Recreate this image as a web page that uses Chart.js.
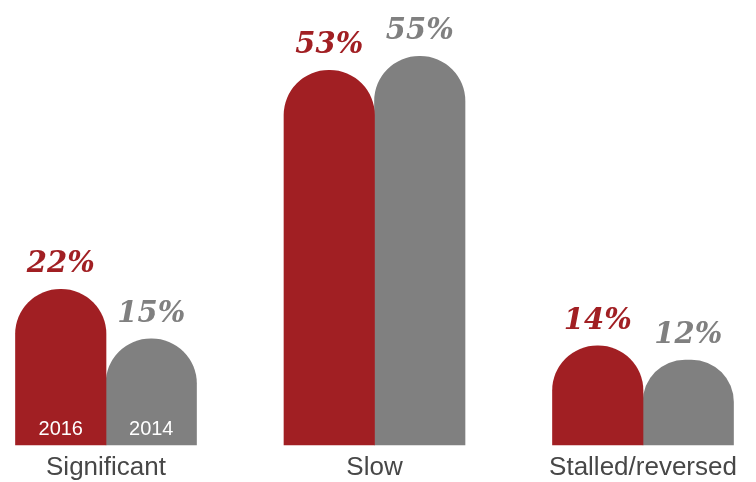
<!DOCTYPE html>
<html>
<head>
<meta charset="utf-8">
<script src="https://cdn.jsdelivr.net/npm/chart.js@4/dist/chart.umd.min.js"></script>
<style>
  html, body { margin: 0; padding: 0; background: #ffffff; }
  #wrap { width: 756px; height: 482px; position: relative; }
</style>
</head>
<body>
<div id="wrap"><canvas id="c" width="756" height="482"></canvas></div>
<script>
const categories = ['Significant', 'Slow', 'Stalled/reversed'];
const seriesNames = ['2016', '2014'];
const values2016 = [22, 53, 14];
const values2014 = [15, 55, 12];
const seriesColors = ['#A11F23', '#808080'];

const valueLabelPlugin = {
  id: 'valueLabels',
  afterDatasetsDraw(chart) {
    const ctx = chart.ctx;
    ctx.save();
    chart.data.datasets.forEach((ds, di) => {
      const meta = chart.getDatasetMeta(di);
      meta.data.forEach((bar, i) => {
        ctx.font = 'italic bold 29px "DejaVu Serif"';
        ctx.fillStyle = seriesColors[di];
        ctx.textAlign = 'center';
        ctx.textBaseline = 'alphabetic';
        ctx.fillText(ds.data[i] + '%', bar.x, bar.y - 17);
        if (i === 0) {
          ctx.font = '20px "Liberation Sans", Arial, sans-serif';
          ctx.fillStyle = '#ffffff';
          ctx.textBaseline = 'middle';
          ctx.fillText(seriesNames[di], bar.x, bar.base - 15);
        }
      });
    });
    ctx.restore();
  }
};

new Chart(document.getElementById('c'), {
  type: 'bar',
  data: {
    labels: categories,
    datasets: [
      { label: seriesNames[0], data: values2016, backgroundColor: seriesColors[0] },
      { label: seriesNames[1], data: values2014, backgroundColor: seriesColors[1] }
    ]
  },
  options: {
    responsive: false,
    animation: false,
    layout: { padding: { left: 106, right: 113, top: 21, bottom: -8 } },
    datasets: {
      bar: {
        barThickness: 90.5,
        borderRadius: 45,
        borderSkipped: 'start',
        clip: false
      }
    },
    plugins: {
      legend: { display: false },
      tooltip: { enabled: false }
    },
    scales: {
      x: {
        offset: false,
        grid: { display: false, drawTicks: false },
        border: { display: false },
        ticks: {
          padding: 7,
          maxRotation: 0,
          autoSkip: false,
          color: '#474747',
          font: { family: '"Liberation Sans", Arial, sans-serif', size: 26 }
        }
      },
      y: {
        display: false,
        min: 0,
        max: 60
      }
    }
  },
  plugins: [valueLabelPlugin]
});
</script>
</body>
</html>
